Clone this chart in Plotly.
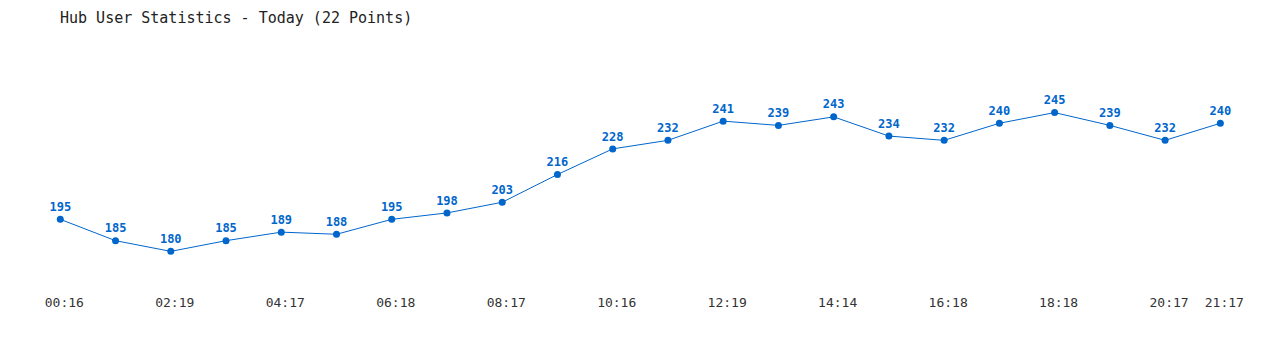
import plotly.graph_objects as go

times = ["00:16", "01:17", "02:19", "03:18", "04:17", "05:17", "06:18", "07:17",
         "08:17", "09:16", "10:16", "11:17", "12:19", "13:16", "14:14", "15:17",
         "16:18", "17:17", "18:18", "19:17", "20:17", "21:17"]
users = [195, 185, 180, 185, 189, 188, 195, 198, 203, 216, 228, 232, 241, 239,
         243, 234, 232, 240, 245, 239, 232, 240]
tick_idx = [0, 2, 4, 6, 8, 10, 12, 14, 16, 18, 20, 21]
tick_text = [times[i] for i in tick_idx]

x = list(range(len(users)))
blue = "#0066cc"
mono = "DejaVu Sans Mono, Liberation Mono, monospace"

fig = go.Figure(go.Scatter(
    x=x, y=users, mode="lines+markers+text",
    line=dict(color=blue, width=1),
    marker=dict(color=blue, size=7),
    text=[str(v) for v in users], textposition="top center",
    textfont=dict(family=mono, size=12, color=blue, weight="bold"),
    cliponaxis=False, hoverinfo="skip",
))

fig.update_layout(
    width=1280, height=350,
    margin=dict(l=0, r=0, t=40, b=60),
    paper_bgcolor="white", plot_bgcolor="white",
    showlegend=False,
    title=dict(text="Hub User Statistics - Today (22 Points)",
               x=60 / 1280, xanchor="left", y=1 - 18 / 350, yanchor="middle",
               font=dict(family=mono, size=15, color="#222")),
)
fig.update_xaxes(range=[-60.3 / 55.24, (1280 - 60.3) / 55.24],
                 tickvals=tick_idx, ticktext=tick_text, showgrid=False,
                 zeroline=False, showline=False, ticks="", ticklabelshift=4,
                 ticklabelstandoff=3,
                 tickfont=dict(family=mono, size=13, color="#333"))
fig.update_yaxes(range=[161.9, 279.0], visible=False, showgrid=False)

fig.write_html("out.html")
